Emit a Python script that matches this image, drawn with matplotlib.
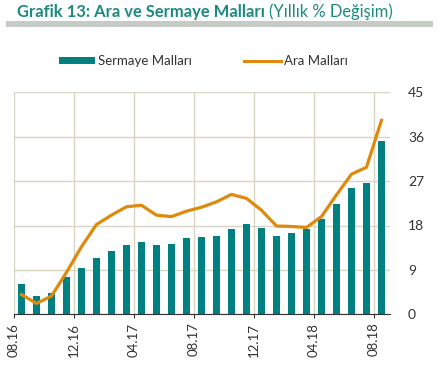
import matplotlib
matplotlib.use("Agg")
import matplotlib.pyplot as plt
from matplotlib.patches import Rectangle
from matplotlib.lines import Line2D

plt.rcParams['font.family'] = ['Lato', 'DejaVu Sans']

# monthly data, 08.16 .. 08.18
sermaye = [6.1, 3.8, 4.4, 7.5, 9.3, 11.5, 12.8, 14.0, 14.6, 14.1, 14.3, 15.5,
           15.7, 15.9, 17.3, 18.3, 17.5, 15.9, 16.5, 17.3, 19.4, 22.4, 25.6,
           26.6, 35.1]
ara = [4.0, 2.2, 3.7, 8.5, 13.7, 18.2, 20.1, 21.8, 22.1, 20.1, 19.8, 20.9,
       21.7, 22.8, 24.3, 23.5, 21.1, 17.9, 17.8, 17.6, 19.8, 24.2, 28.4,
       29.8, 39.3]
tick_labels = ["08.16", "12.16", "04.17", "08.17", "12.17", "04.18", "08.18"]
y_ticks = [0, 9, 18, 27, 36, 45]

TEAL = "#008080"
ORANGE = "#DE8A0C"
GRID = "#D9D5C3"
TEXT = "#333333"
TITLE = "#1B8A80"

W, H = 441, 377
fig = plt.figure(figsize=(W / 100, H / 100), dpi=100)
renderer = fig.canvas.get_renderer()

# title + gray rule; size the bold part to the reference width
t1 = fig.text(17 / W, 1 - 17 / H, "Grafik 13: Ara ve Sermaye Malları",
              color=TITLE, fontsize=12, weight="bold", va="baseline")
w1 = t1.get_window_extent(renderer).width
size = 12 * 247 / w1
t1.set_fontsize(size)
w1 = t1.get_window_extent(renderer).width
fig.text((17 + w1 + 4) / W, 1 - 17 / H, "(Yıllık % Değişim)",
         color=TITLE, fontsize=size, va="baseline")
fig.add_artist(Rectangle((6 / W, 1 - 27 / H), 427 / W, 6 / H,
                         transform=fig.transFigure, color="#C6CBC6", lw=0))

# legend drawn by hand
fig.add_artist(Rectangle((59 / W, 1 - 64 / H), 36 / W, 7 / H,
                         transform=fig.transFigure, color=TEAL, lw=0))
fig.text(98 / W, 1 - 61 / H, "Sermaye Malları", color=TEXT, fontsize=9.5,
         va="center")
fig.add_artist(Line2D([244 / W, 281 / W], [1 - 61 / H, 1 - 61 / H],
                      transform=fig.transFigure, color=ORANGE, lw=2.2))
fig.text(284 / W, 1 - 61 / H, "Ara Malları", color=TEXT, fontsize=9.5,
         va="center")

ax = fig.add_axes([14 / W, 62.7 / H, 376 / W, 222 / H])
x = [i + 0.5 for i in range(len(sermaye))]
ax.bar(x, sermaye, width=0.45, color=TEAL, zorder=2)
ax.plot(x, ara, color=ORANGE, lw=2.3, zorder=3, solid_joinstyle="round")

ax.set_xlim(0, 25.07)
ax.set_ylim(0, 45)
ax.set_xticks(range(0, 25, 4))
ax.set_xticklabels(tick_labels, rotation=90, fontsize=9.5, color=TEXT)
ax.yaxis.tick_right()
ax.set_yticks(y_ticks)
ax.set_yticklabels([str(v) for v in y_ticks], fontsize=10, color=TEXT)
ax.tick_params(axis="y", length=0, pad=13)
ax.tick_params(axis="x", length=3, color="#333333", pad=3)
ax.grid(True, color=GRID, lw=1, zorder=0)
for s in ["top", "right", "left"]:
    ax.spines[s].set_visible(False)
ax.spines["bottom"].set_color("#333333")
ax.spines["bottom"].set_zorder(4)

fig.savefig("out.png", dpi=100)
